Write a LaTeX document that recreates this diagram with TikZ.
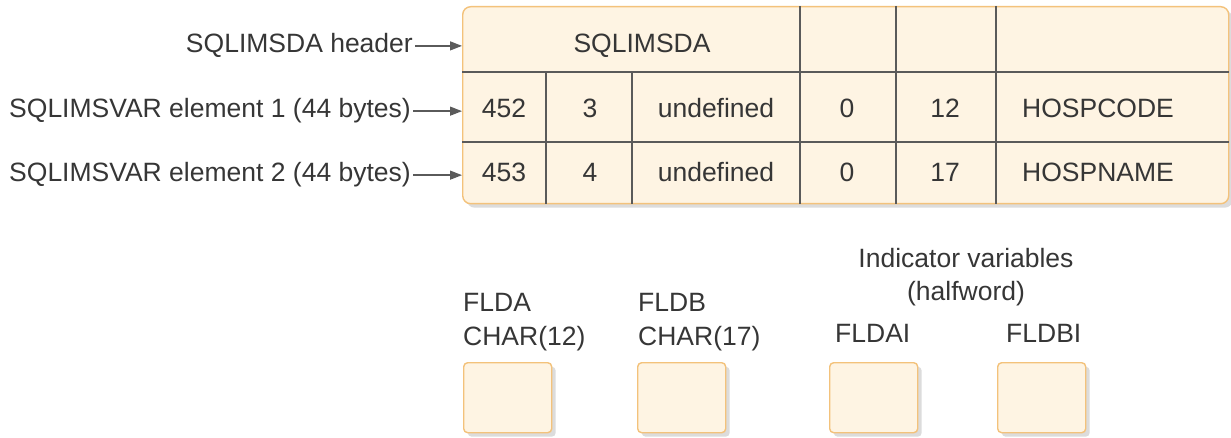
\documentclass[tikz,border=0pt]{standalone}
\usepackage{fontspec}
\setmainfont{Liberation Sans}
\usetikzlibrary{arrows.meta,shadows}
\definecolor{cellfill}{HTML}{FEF4E3}
\definecolor{cellborder}{HTML}{F3C27B}
\definecolor{gridline}{HTML}{5A5A5A}
\definecolor{txt}{HTML}{363636}
\definecolor{shadowc}{HTML}{DCDCDC}
\begin{document}
\begin{tikzpicture}[x=1pt,y=-1pt,
  font=\fontsize{26.5}{31}\selectfont,
  lbl/.style={text=txt, inner sep=0pt, anchor=base},
  lble/.style={text=txt, inner sep=0pt, anchor=base east},
  lblw/.style={text=txt, inner sep=0pt, anchor=base west},
  boxstyle/.style={draw=cellborder, fill=cellfill, line width=1.4pt, rounded corners=8pt,
    drop shadow={shadow xshift=4pt, shadow yshift=-4pt, fill=shadowc, opacity=1},
    inner sep=0pt, anchor=north west},
  smallbox/.style={draw=cellborder, fill=cellfill, line width=1.4pt, rounded corners=4pt,
    drop shadow={shadow xshift=4pt, shadow yshift=-4pt, fill=shadowc, opacity=1},
    inner sep=0pt, anchor=north west, minimum width=88pt, minimum height=70pt},
  gridl/.style={draw=gridline, line width=1.3pt},
  arr/.style={draw=gridline, line width=1.3pt, -{Triangle[length=12pt,width=9pt]}}
]
\useasboundingbox (0,0) rectangle (1231,438);

% main table
\node[boxstyle, minimum width=766pt, minimum height=197pt] (tbl) at (462,6) {};
\coordinate (r1) at (0,72);
\coordinate (r2) at (0,142);
\draw[gridl] (tbl.west |- r1) -- (tbl.east |- r1);
\draw[gridl] (tbl.west |- r2) -- (tbl.east |- r2);
\foreach \cx in {800,896,996} {
  \draw[gridl] (\cx,0 |- tbl.north) -- (\cx,0 |- tbl.south);
}
\foreach \cx in {546,632} {
  \draw[gridl] (\cx,0 |- r1) -- (\cx,0 |- tbl.south);
}

% header row
\node[lbl] (hdr) at (642,53) {SQLIMSDA};
% row 1
\node[lbl] (a1) at (504,118) {452};
\node[lbl] (b1) at (590,118) {3};
\node[lbl] (c1) at (716,118) {undefined};
\node[lbl] (d1) at (847,118) {0};
\node[lbl] (e1) at (945,118) {12};
\node[lblw] (f1) at (1022,118) {HOSPCODE};
% row 2
\node[lbl] (a2) at (504,182) {453};
\node[lbl] (b2) at (590,182) {4};
\node[lbl] (c2) at (716,182) {undefined};
\node[lbl] (d2) at (847,182) {0};
\node[lbl] (e2) at (945,182) {17};
\node[lblw] (f2) at (1022,182) {HOSPNAME};

% left labels with arrows
\node[lble] (l0) at (413,53) {SQLIMSDA header};
\node[lble] (l1) at (411,118) {SQLIMSVAR element 1 (44 bytes)};
\node[lble] (l2) at (411,182) {SQLIMSVAR element 2 (44 bytes)};
\draw[arr] ([xshift=2pt]l0.east) -- (tbl.west |- l0.east);
\draw[arr] ([xshift=2pt]l1.east) -- (tbl.west |- l1.east);
\draw[arr] ([xshift=2pt]l2.east) -- (tbl.west |- l2.east);

% host variables
\node[lblw] (fa) at (463,312) {FLDA};
\node[lblw] (fat) at (463,345) {CHAR(12)};
\node[lblw] (fb) at (638,312) {FLDB};
\node[lblw] (fbt) at (638,345) {CHAR(17)};
\node[lbl] (ind) at (966,268) {Indicator variables};
\node[lbl] (hw) at (966,300) {(halfword)};
\node[lblw] (fai) at (835,342) {FLDAI};
\node[lblw] (fbi) at (1006,342) {FLDBI};

\node[smallbox] (ba) at (463,362) {};
\node[smallbox] (bb) at (637,362) {};
\node[smallbox] (bai) at (829,362) {};
\node[smallbox] (bbi) at (997,362) {};
\end{tikzpicture}
\end{document}
